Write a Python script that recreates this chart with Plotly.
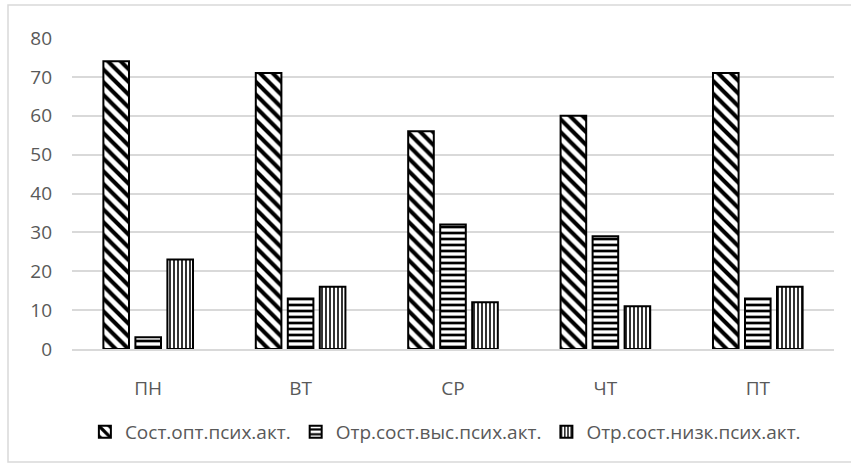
import plotly.graph_objects as go

categories = ["ПН", "ВТ", "СР", "ЧТ", "ПТ"]
series_names = ["Сост.опт.псих.акт.", "Отр.сост.выс.псих.акт.", "Отр.сост.низк.псих.акт."]
opt_values = [74, 71, 56, 60, 71]
high_values = [3, 13, 32, 29, 13]
low_values = [23, 16, 12, 11, 16]
y_ticks = [0, 10, 20, 30, 40, 50, 60, 70, 80]

patterns = ["\\", "-", "|"]
pattern_sizes = [9, 6, 4]
pattern_solidity = [0.45, 0.45, 0.4]
values = [opt_values, high_values, low_values]

fig = go.Figure()
for name, vals, pat, sz, sol in zip(series_names, values, patterns, pattern_sizes, pattern_solidity):
    fig.add_trace(go.Bar(
        x=categories, y=vals, name=name,
        marker=dict(
            color="white",
            line=dict(color="black", width=2),
            pattern=dict(shape=pat, fgcolor="black", bgcolor="white",
                         size=sz, solidity=sol, fillmode="replace"),
        ),
    ))

W, H = 851, 466
L, R, T, B = 72, 17, 38, 117
pw, ph = W - L - R, H - T - B

def px_to_paper_x(x):
    return (x - L) / pw

def px_to_paper_y(y):
    return (H - B - y) / ph

fig.add_shape(type="rect", xref="paper", yref="paper",
              x0=px_to_paper_x(8), x1=px_to_paper_x(858),
              y0=px_to_paper_y(462), y1=px_to_paper_y(5),
              line=dict(color="#d9d9d9", width=1.5), fillcolor="rgba(0,0,0,0)",
              layer="below")

font_family = "Open Sans, sans-serif"
fig.update_layout(
    width=W, height=H,
    margin=dict(l=L, r=R, t=T, b=B, autoexpand=False),
    plot_bgcolor="white", paper_bgcolor="white",
    barmode="group", bargap=0.37, bargroupgap=0.2,
    font=dict(family=font_family, size=20, color="#595959"),
    showlegend=True,
    legend=dict(orientation="h", x=0.49, xanchor="center",
                y=px_to_paper_y(432), yanchor="middle",
                font=dict(size=19, color="#595959"),
                itemwidth=30, tracegroupgap=0),
    xaxis=dict(showgrid=False, showline=True, linecolor="#d9d9d9", linewidth=1.5,
               ticks="", tickfont=dict(size=19), ticklabelstandoff=21),
    yaxis=dict(range=[0, 80], tickvals=y_ticks, showgrid=True,
               gridcolor="#d9d9d9", gridwidth=1.5, zeroline=False,
               showline=False, ticks="", tickfont=dict(size=19),
               ticklabelstandoff=19),
)

fig.write_html("out.html", config={"displayModeBar": False},
               post_script="document.body.style.margin='0';")
